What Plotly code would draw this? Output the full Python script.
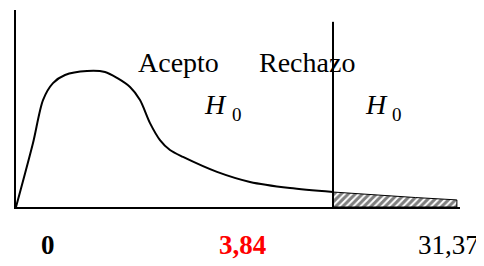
import plotly.graph_objects as go

# Curve (chi-square-like density shape), in chart units
curve_x = [0, 3.83, 6.08, 8.33, 11.04, 15.99, 20.05, 22.75, 25.68, 27.93, 30.18,
           32.43, 34.68, 37.61, 45.27, 52.70, 61.7, 71.4]
curve_y = [0, 0.325, 0.543, 0.629, 0.670, 0.690, 0.685, 0.655, 0.609, 0.543, 0.426,
           0.340, 0.289, 0.254, 0.178, 0.127, 0.096, 0.076]
# Rejection tail (hatched)
tail_x = [71.4, 80, 90, 99.3]
tail_y = [0.076, 0.062, 0.048, 0.036]
critical_x = 71.4
critical_top = 0.94

tick_labels = ["0", "3,84", "31,37"]
tick_pos = [7.2, 50.9, 97.5]
tick_colors = ["black", "red", "black"]
tick_bold = [True, True, False]

region_labels = ["Acepto", "Rechazo"]
region_pos = [36.7, 65.5]
h_pos = [45.0, 81.1]

FONT = "Liberation Serif, Times New Roman, serif"

fig = go.Figure()
fig.add_trace(go.Scatter(
    x=tail_x + [tail_x[-1], tail_x[0]], y=tail_y + [0, 0],
    mode="lines", line=dict(color="black", width=1),
    fill="toself", fillcolor="white",
    fillpattern=dict(shape="/", fgcolor="black", bgcolor="white", size=5, solidity=0.6),
    hoverinfo="skip", showlegend=False))
fig.add_trace(go.Scatter(x=curve_x, y=curve_y, mode="lines",
                         line=dict(color="black", width=2, shape="spline", smoothing=0.8),
                         hoverinfo="skip", showlegend=False))
fig.add_trace(go.Scatter(x=[critical_x, critical_x], y=[0, critical_top], mode="lines",
                         line=dict(color="black", width=2), hoverinfo="skip", showlegend=False))

for lab, xp in zip(region_labels, region_pos):
    fig.add_annotation(x=xp, y=0.731, text=lab, showarrow=False,
                       xanchor="center", yanchor="middle",
                       font=dict(family=FONT, size=28, color="black"))
for xp in h_pos:
    fig.add_annotation(x=xp, y=0.518, text="<i>H</i>", showarrow=False,
                       xanchor="center", yanchor="middle",
                       font=dict(family=FONT, size=28, color="black"))
    fig.add_annotation(x=xp + 4.8, y=0.47, text="0", showarrow=False,
                       xanchor="center", yanchor="middle",
                       font=dict(family=FONT, size=19, color="black"))
for lab, xp, col, b in zip(tick_labels, tick_pos, tick_colors, tick_bold):
    fig.add_annotation(x=xp, y=-0.193, yref="paper", text=f"<b>{lab}</b>" if b else lab,
                       showarrow=False, xanchor="center", yanchor="middle",
                       font=dict(family=FONT, size=27, color=col))

# The page body adds an 8px margin, so the figure is 8px smaller and margins shifted
fig.update_layout(
    width=476, height=258,
    margin=dict(l=8, r=24, t=2, b=59),
    paper_bgcolor="white", plot_bgcolor="white",
    xaxis=dict(range=[0, 100], showgrid=False, zeroline=False, showticklabels=False,
               showline=True, linecolor="black", linewidth=2, ticks=""),
    yaxis=dict(range=[0, 1], showgrid=False, zeroline=False, showticklabels=False,
               showline=True, linecolor="black", linewidth=2, ticks=""),
)

fig.write_html("out.html")
